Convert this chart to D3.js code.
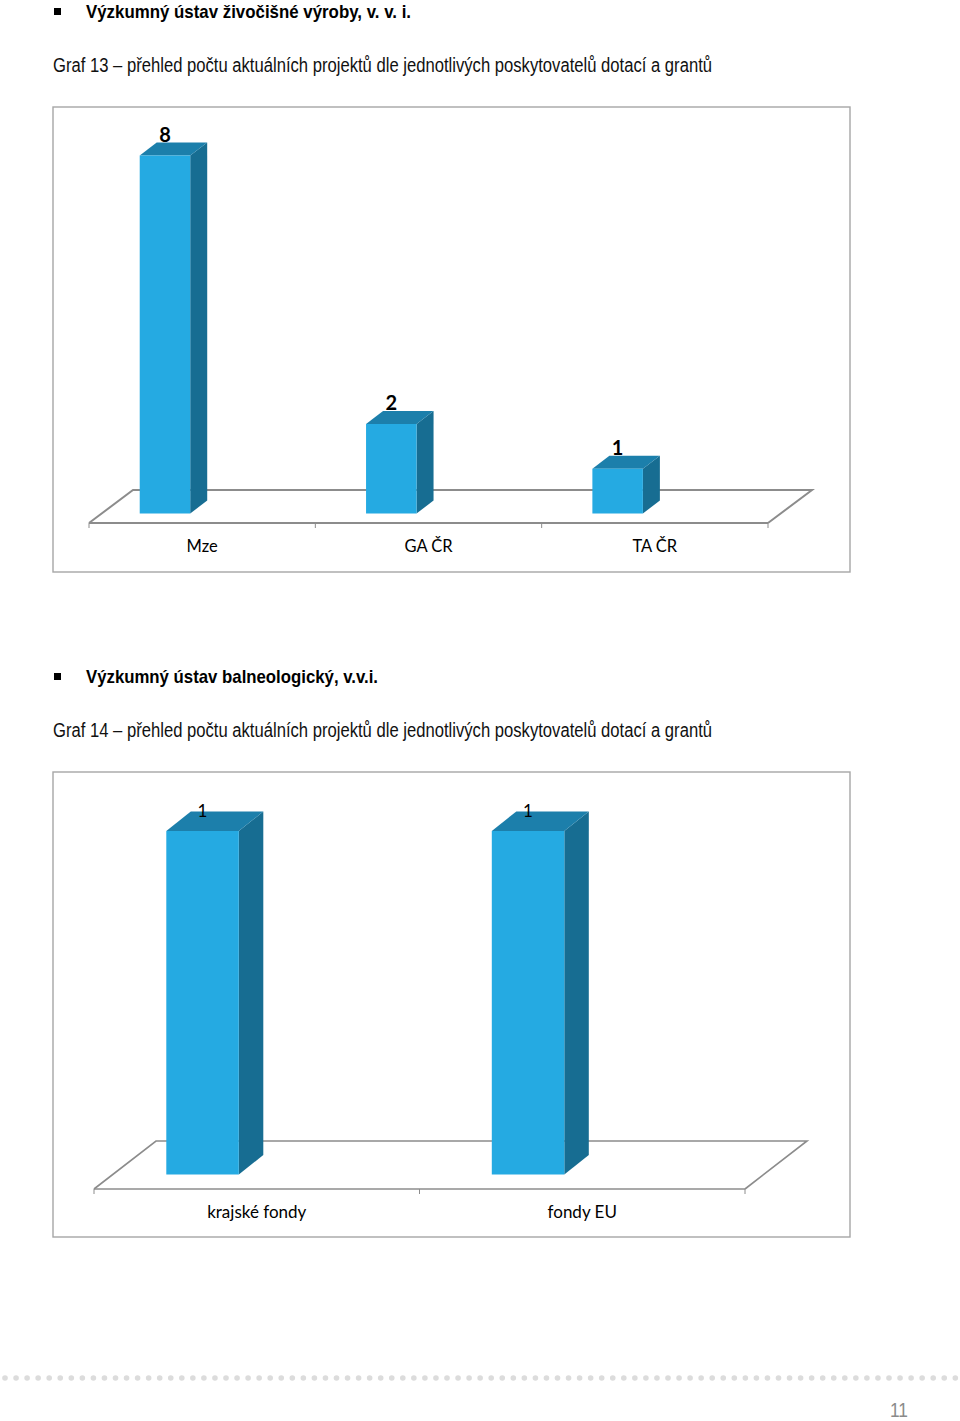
<!DOCTYPE html>
<html>
<head>
<meta charset="utf-8">
<script src="https://cdn.jsdelivr.net/npm/d3@7"></script>
<style>
    html, body { margin: 0; padding: 0; background: #fff; }
    svg { display: block; }
    .heading { font-family: "Liberation Sans", Arial, sans-serif; fill: #000; }
    .cat, .val { font-family: Lato, "Noto Sans", sans-serif; fill: #000; }
</style>
</head>
<body>
<div id="page"></div>
<script>
let categories_13 = ["Mze", "GA ČR", "TA ČR"];
let values_13 = [8, 2, 1];
let categories_14 = ["krajské fondy", "fondy EU"];
let values_14 = [1, 1];

let section_titles = ["Výzkumný ústav živočišné výroby, v. v. i.", "Výzkumný ústav balneologický, v.v.i."];
let graph_titles = [
    "Graf 13 – přehled počtu aktuálních projektů dle jednotlivých poskytovatelů dotací a grantů",
    "Graf 14 – přehled počtu aktuálních projektů dle jednotlivých poskytovatelů dotací a grantů"
];
let page_number = "11";

let width = 960, height = 1421;
let color_front = "#25aae2", color_top = "#1c7fab", color_side = "#176d92", color_line = "#8c8c8c";

let svg = d3.select("#page")
    .append("svg")
    .attr("width", width)
    .attr("height", height);

function drawHeading(title, graph, y_section, y_graph, title_len) {
    svg.append("rect")
        .attr("x", 54)
        .attr("y", y_section - 10)
        .attr("width", 7)
        .attr("height", 7)
        .attr("fill", "#000");

    svg.append("text")
        .attr("class", "heading")
        .attr("x", 86)
        .attr("y", y_section)
        .attr("textLength", title_len)
        .attr("lengthAdjust", "spacingAndGlyphs")
        .style("font-size", "19px")
        .style("font-weight", "bold")
        .text(title);

    svg.append("text")
        .attr("class", "heading")
        .attr("x", 53)
        .attr("y", y_graph)
        .attr("textLength", 659)
        .attr("lengthAdjust", "spacingAndGlyphs")
        .style("font-size", "19.5px")
        .style("fill", "#111")
        .text(graph);
}

function drawChart(categories, values, o) {
    let g = svg.append("g");

    // frame
    g.append("rect")
        .attr("x", 53)
        .attr("y", o.top)
        .attr("width", 797)
        .attr("height", 465)
        .attr("fill", "#fff")
        .attr("stroke", "#a6a6a6")
        .attr("stroke-width", 1.4);

    let x = d3.scaleBand()
        .domain(categories)
        .range([o.floor_left, o.floor_right]);

    let y = d3.scaleLinear()
        .domain([0, d3.max(values)])
        .range([o.base, o.bar_top]);

    // floor of the 3d plot
    let l = o.floor_left, r = o.floor_right, fy = o.floor_y;
    g.append("path")
        .attr("d", `M${l},${fy}L${l + o.floor_dx},${fy - o.floor_dy}L${r + o.floor_dx},${fy - o.floor_dy}L${r},${fy}`)
        .attr("fill", "none")
        .attr("stroke", color_line)
        .attr("stroke-width", o.back_w);

    g.append("line")
        .attr("x1", l)
        .attr("x2", r)
        .attr("y1", fy)
        .attr("y2", fy)
        .attr("stroke", color_line)
        .attr("stroke-width", o.floor_w);

    // ticks sit on the band edges
    let edges = categories.map(d => x(d)).concat([o.floor_right]);
    g.selectAll("line.tick")
        .data(edges)
        .join("line")
        .attr("class", "tick")
        .attr("x1", d => d)
        .attr("x2", d => d)
        .attr("y1", fy)
        .attr("y2", fy + 5)
        .attr("stroke", color_line)
        .attr("stroke-width", 1);

    g.selectAll("text.cat")
        .data(categories)
        .join("text")
        .attr("class", "cat")
        .attr("x", d => x(d) + x.bandwidth() / 2)
        .attr("y", fy + 29)
        .attr("text-anchor", "middle")
        .style("font-size", o.cat_size)
        .text(d => d);

    let rows = categories.map((d, i) => ({name: d, value: values[i]}));
    let left = d => x(d.name) + x.bandwidth() / 2 + o.shift - o.bar_w / 2;

    let bars = g.selectAll("g.bar")
        .data(rows)
        .join("g")
        .attr("class", "bar");

    bars.append("path")
        .attr("fill", color_side)
        .attr("d", d => {
            let a = left(d) + o.bar_w;
            return `M${a},${y(d.value)}L${a + o.dx},${y(d.value) - o.dy}L${a + o.dx},${o.base - o.dy}L${a},${o.base}Z`;
        });

    bars.append("path")
        .attr("fill", color_top)
        .attr("d", d => {
            let a = left(d), t = y(d.value);
            return `M${a},${t}L${a + o.dx},${t - o.dy}L${a + o.bar_w + o.dx},${t - o.dy}L${a + o.bar_w},${t}Z`;
        });

    bars.append("rect")
        .attr("fill", color_front)
        .attr("x", d => left(d))
        .attr("y", d => y(d.value))
        .attr("width", o.bar_w)
        .attr("height", d => o.base - y(d.value));

    bars.append("text")
        .attr("class", "val")
        .attr("x", d => left(d) + o.bar_w / 2)
        .attr("y", d => y(d.value) - o.label_up)
        .attr("text-anchor", "middle")
        .style("font-size", o.label_size)
        .style("font-weight", o.label_weight)
        .text(d => d.value);
}

drawHeading(section_titles[0], graph_titles[0], 18, 72, 325);
drawHeading(section_titles[1], graph_titles[1], 683, 737, 292);

drawChart(categories_13, values_13, {
    top: 107, floor_left: 89, floor_right: 768, floor_y: 523, floor_dx: 44, floor_dy: 33, floor_w: 2.2, back_w: 2,
    base: 513.5, bar_top: 155.5, bar_w: 50.5, shift: -37.2, dx: 17, dy: 13, cat_size: "16.5px",
    label_up: 14, label_size: "20px", label_weight: "bold"
});

drawChart(categories_14, values_14, {
    top: 772, floor_left: 94, floor_right: 745, floor_y: 1189, floor_dx: 62, floor_dy: 48, floor_w: 1.6, back_w: 1.6,
    base: 1174.5, bar_top: 831, bar_w: 72.5, shift: -54.2, dx: 24.5, dy: 19.5, cat_size: "17px",
    label_up: 14, label_size: "17px", label_weight: "normal"
});

// dotted footer line
svg.selectAll("circle.dot")
    .data(d3.range(5, width, 11.05))
    .join("circle")
    .attr("class", "dot")
    .attr("cx", d => d)
    .attr("cy", 1378)
    .attr("r", 2.8)
    .attr("fill", "#dcdcdc");

svg.append("text")
    .attr("class", "heading")
    .attr("x", 890)
    .attr("y", 1416.5)
    .attr("textLength", 18)
    .attr("lengthAdjust", "spacingAndGlyphs")
    .style("font-size", "20px")
    .style("fill", "#8a8a8a")
    .text(page_number);
</script>
</body>
</html>
